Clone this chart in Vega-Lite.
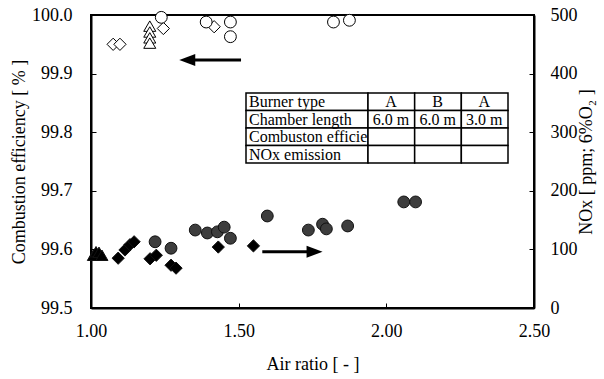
{
  "$schema": "https://vega.github.io/schema/vega-lite/v6.json",
  "width": 443,
  "height": 293,
  "autosize": {"type": "none"},
  "padding": {"left": 91, "top": 15, "right": 70, "bottom": 71},
  "background": "white",
  "config": {
    "font": "'Liberation Serif', 'Times New Roman', 'DejaVu Serif', serif",
    "view": {"stroke": "black", "strokeWidth": 2},
    "text": {"font": "'Liberation Serif', 'Times New Roman', 'DejaVu Serif', serif"},
    "style": {
      "guide-label": {"font": "'Liberation Serif', 'Times New Roman', 'DejaVu Serif', serif", "fontSize": 18, "fill": "black"},
      "guide-title": {"font": "'Liberation Serif', 'Times New Roman', 'DejaVu Serif', serif", "fontSize": 18, "fill": "black", "fontWeight": "normal"}
    },
    "axis": {
      "grid": false,
      "domainColor": "black",
      "domainWidth": 2,
      "tickColor": "black",
      "tickSize": -5,
      "tickWidth": 1,
      "labelFlush": false,
      "labelColor": "black",
      "titleColor": "black",
      "labelFont": "'Liberation Serif', 'Times New Roman', 'DejaVu Serif', serif",
      "titleFont": "'Liberation Serif', 'Times New Roman', 'DejaVu Serif', serif",
      "labelFontSize": 18,
      "titleFontSize": 18,
      "titleFontWeight": "normal"
    }
  },
  "datasets": {
    "eff": [
      {"air": 1.075, "eff": 99.950, "cfg": "A 6.0 m"},
      {"air": 1.098, "eff": 99.950, "cfg": "A 6.0 m"},
      {"air": 1.245, "eff": 99.977, "cfg": "A 6.0 m"},
      {"air": 1.417, "eff": 99.980, "cfg": "A 6.0 m"},
      {"air": 1.199, "eff": 99.981, "cfg": "B 6.0 m"},
      {"air": 1.199, "eff": 99.971, "cfg": "B 6.0 m"},
      {"air": 1.199, "eff": 99.961, "cfg": "B 6.0 m"},
      {"air": 1.199, "eff": 99.952, "cfg": "B 6.0 m"},
      {"air": 1.238, "eff": 99.996, "cfg": "A 3.0 m"},
      {"air": 1.390, "eff": 99.988, "cfg": "A 3.0 m"},
      {"air": 1.472, "eff": 99.988, "cfg": "A 3.0 m"},
      {"air": 1.472, "eff": 99.963, "cfg": "A 3.0 m"},
      {"air": 1.821, "eff": 99.988, "cfg": "A 3.0 m"},
      {"air": 1.875, "eff": 99.991, "cfg": "A 3.0 m"}
    ],
    "nox": [
      {"air": 1.092, "nox": 85, "cfg": "A 6.0 m"},
      {"air": 1.115, "nox": 99, "cfg": "A 6.0 m"},
      {"air": 1.132, "nox": 108, "cfg": "A 6.0 m"},
      {"air": 1.146, "nox": 113, "cfg": "A 6.0 m"},
      {"air": 1.200, "nox": 84, "cfg": "A 6.0 m"},
      {"air": 1.221, "nox": 90, "cfg": "A 6.0 m"},
      {"air": 1.271, "nox": 73, "cfg": "A 6.0 m"},
      {"air": 1.288, "nox": 68, "cfg": "A 6.0 m"},
      {"air": 1.431, "nox": 104, "cfg": "A 6.0 m"},
      {"air": 1.550, "nox": 106, "cfg": "A 6.0 m"},
      {"air": 1.008, "nox": 90, "cfg": "B 6.0 m"},
      {"air": 1.017, "nox": 96, "cfg": "B 6.0 m"},
      {"air": 1.027, "nox": 95, "cfg": "B 6.0 m"},
      {"air": 1.037, "nox": 90, "cfg": "B 6.0 m"},
      {"air": 1.217, "nox": 113, "cfg": "A 3.0 m"},
      {"air": 1.271, "nox": 102, "cfg": "A 3.0 m"},
      {"air": 1.353, "nox": 133, "cfg": "A 3.0 m"},
      {"air": 1.394, "nox": 128, "cfg": "A 3.0 m"},
      {"air": 1.428, "nox": 130, "cfg": "A 3.0 m"},
      {"air": 1.451, "nox": 138, "cfg": "A 3.0 m"},
      {"air": 1.472, "nox": 119, "cfg": "A 3.0 m"},
      {"air": 1.597, "nox": 157, "cfg": "A 3.0 m"},
      {"air": 1.736, "nox": 133, "cfg": "A 3.0 m"},
      {"air": 1.784, "nox": 143, "cfg": "A 3.0 m"},
      {"air": 1.797, "nox": 135, "cfg": "A 3.0 m"},
      {"air": 1.869, "nox": 140, "cfg": "A 3.0 m"},
      {"air": 2.059, "nox": 181, "cfg": "A 3.0 m"},
      {"air": 2.099, "nox": 181, "cfg": "A 3.0 m"}
    ],
    "arrows": [
      {"air": 1.330, "air2": 1.508, "head": 1.326, "eff": 99.923, "dir": "left"},
      {"air": 1.580, "air2": 1.745, "head": 1.757, "eff": 99.596, "dir": "right"}
    ],
    "table": [
      {"r0": 0, "r1": 1, "c0": 0, "c1": 1, "text": "Burner type"},
      {"r0": 0, "r1": 1, "c0": 1, "c1": 2, "text": "A"},
      {"r0": 0, "r1": 1, "c0": 2, "c1": 3, "text": "B"},
      {"r0": 0, "r1": 1, "c0": 3, "c1": 4, "text": "A"},
      {"r0": 1, "r1": 2, "c0": 0, "c1": 1, "text": "Chamber length"},
      {"r0": 1, "r1": 2, "c0": 1, "c1": 2, "text": "6.0 m"},
      {"r0": 1, "r1": 2, "c0": 2, "c1": 3, "text": "6.0 m"},
      {"r0": 1, "r1": 2, "c0": 3, "c1": 4, "text": "3.0 m"},
      {"r0": 2, "r1": 3, "c0": 0, "c1": 1, "text": "Combuston efficiency"},
      {"r0": 2, "r1": 3, "c0": 1, "c1": 2, "text": ""},
      {"r0": 2, "r1": 3, "c0": 2, "c1": 3, "text": ""},
      {"r0": 2, "r1": 3, "c0": 3, "c1": 4, "text": ""},
      {"r0": 3, "r1": 4, "c0": 0, "c1": 1, "text": "NOx emission"},
      {"r0": 3, "r1": 4, "c0": 1, "c1": 2, "text": ""},
      {"r0": 3, "r1": 4, "c0": 2, "c1": 3, "text": ""},
      {"r0": 3, "r1": 4, "c0": 3, "c1": 4, "text": ""}
    ]
  },
  "layer": [
    {
      "layer": [
        {
          "layer": [
            {
              "data": {"name": "eff"},
              "mark": {"type": "point", "filled": true, "fill": "white", "stroke": "black", "strokeWidth": 1, "opacity": 1},
              "encoding": {
                "x": {"field": "air", "type": "quantitative", "scale": {"domain": [1, 2.5], "nice": false, "zero": false}, "axis": {"values": [1, 1.5, 2, 2.5], "format": ".2f", "title": "Air ratio [ - ]", "labelPadding": 19, "titlePadding": 15}},
                "y": {"field": "eff", "type": "quantitative", "scale": {"domain": [99.5, 100], "nice": false, "zero": false}, "axis": {"orient": "left", "values": [99.5, 99.6, 99.7, 99.8, 99.9, 100], "format": ".1f", "title": "Combustion efficiency [ % ]", "labelPadding": 24, "titlePadding": 3}},
                "shape": {"field": "cfg", "type": "nominal", "scale": {"domain": ["A 6.0 m", "B 6.0 m", "A 3.0 m"], "range": ["diamond", "triangle-up", "circle"]}, "legend": null},
                "size": {"field": "cfg", "type": "nominal", "scale": {"domain": ["A 6.0 m", "B 6.0 m", "A 3.0 m"], "range": [150, 140, 190]}, "legend": null}
              }
            },
            {
              "data": {"name": "arrows"},
              "mark": {"type": "rule", "stroke": "black", "strokeWidth": 3},
              "encoding": {
                "x": {"field": "air", "type": "quantitative", "title": "Air ratio [ - ]"},
                "x2": {"field": "air2"},
                "y": {"field": "eff", "type": "quantitative", "title": "Combustion efficiency [ % ]"}
              }
            },
            {
              "data": {"name": "arrows"},
              "transform": [{"filter": "datum.dir == 'left'"}],
              "mark": {"type": "point", "filled": true, "fill": "black", "stroke": null, "opacity": 1, "size": 256, "shape": "M-1,0L1,-0.75L1,0.75Z"},
              "encoding": {
                "x": {"field": "head", "type": "quantitative", "title": "Air ratio [ - ]"},
                "y": {"field": "eff", "type": "quantitative", "title": "Combustion efficiency [ % ]"}
              }
            },
            {
              "data": {"name": "arrows"},
              "transform": [{"filter": "datum.dir == 'right'"}],
              "mark": {"type": "point", "filled": true, "fill": "black", "stroke": null, "opacity": 1, "size": 256, "shape": "M1,0L-1,-0.75L-1,0.75Z"},
              "encoding": {
                "x": {"field": "head", "type": "quantitative", "title": "Air ratio [ - ]"},
                "y": {"field": "eff", "type": "quantitative", "title": "Combustion efficiency [ % ]"}
              }
            }
          ]
        },
        {
          "data": {"name": "nox"},
          "mark": {"type": "point", "filled": true, "stroke": "#111111", "strokeWidth": 1, "opacity": 1},
          "encoding": {
            "x": {"field": "air", "type": "quantitative", "title": "Air ratio [ - ]"},
            "y": {"field": "nox", "type": "quantitative", "scale": {"domain": [0, 500], "nice": false, "zero": false}, "axis": {"orient": "right", "values": [0, 100, 200, 300, 400, 500], "title": "NOx [ ppm; 6%O₂ ]", "titleAngle": -90, "labelPadding": 21, "titlePadding": 18}},
            "shape": {"field": "cfg", "type": "nominal", "scale": {"domain": ["A 6.0 m", "B 6.0 m", "A 3.0 m"], "range": ["diamond", "triangle-up", "circle"]}, "legend": null},
            "size": {"field": "cfg", "type": "nominal", "scale": {"domain": ["A 6.0 m", "B 6.0 m", "A 3.0 m"], "range": [180, 150, 190]}, "legend": null},
            "fill": {"field": "cfg", "type": "nominal", "scale": {"domain": ["A 6.0 m", "B 6.0 m", "A 3.0 m"], "range": ["black", "black", "#3d3d3d"]}, "legend": null}
          }
        }
      ],
      "resolve": {"scale": {"y": "independent"}}
    },
    {
      "data": {"name": "table"},
      "layer": [
        {
          "mark": {"type": "rect", "fill": "white", "stroke": "black", "strokeWidth": 1.5},
          "encoding": {
            "x": {"field": "c0", "type": "quantitative", "scale": {"domain": [0, 1, 4], "range": [155, 277, 417], "nice": false, "zero": false}, "axis": null},
            "x2": {"field": "c1"},
            "y": {"field": "r0", "type": "quantitative", "scale": {"domain": [0, 4], "range": [78, 148], "nice": false, "zero": false}, "axis": null},
            "y2": {"field": "r1"}
          }
        },
        {
          "transform": [{"filter": "datum.c0 == 0"}],
          "mark": {"type": "text", "align": "left", "baseline": "middle", "dx": 3, "dy": 9, "fontSize": 16, "color": "black", "limit": 121, "ellipsis": "\u200b"},
          "encoding": {
            "x": {"field": "c0", "type": "quantitative", "axis": null},
            "y": {"field": "r0", "type": "quantitative", "axis": null},
            "text": {"field": "text"}
          }
        },
        {
          "transform": [{"filter": "datum.c0 > 0"}],
          "mark": {"type": "text", "align": "center", "baseline": "middle", "dx": 23, "dy": 9, "fontSize": 16, "color": "black"},
          "encoding": {
            "x": {"field": "c0", "type": "quantitative", "axis": null},
            "y": {"field": "r0", "type": "quantitative", "axis": null},
            "text": {"field": "text"}
          }
        }
      ]
    }
  ],
  "resolve": {"scale": {"x": "independent", "y": "independent"}}
}
